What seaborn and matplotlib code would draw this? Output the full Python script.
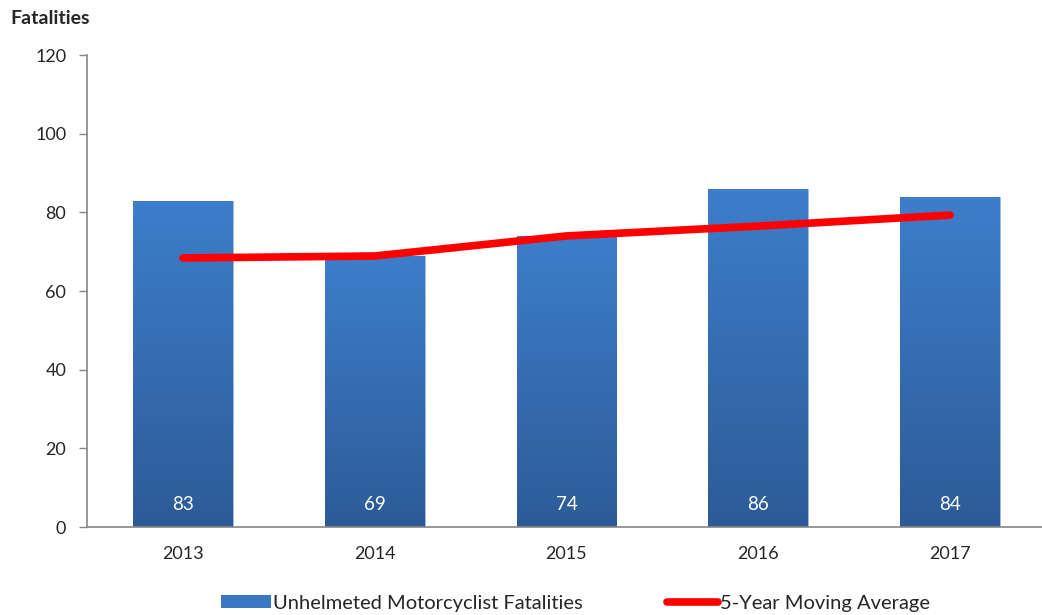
import numpy as np
import pandas as pd
import seaborn as sns
import matplotlib.pyplot as plt
from matplotlib.lines import Line2D
from matplotlib.patches import Patch
from matplotlib.colors import LinearSegmentedColormap

years = ["2013", "2014", "2015", "2016", "2017"]
fatalities = [83, 69, 74, 86, 84]
moving_avg = [68.4, 68.9, 74.0, 76.5, 79.3]

sns.set_style("white")
plt.rcParams['font.family'] = ['Lato', 'DejaVu Sans']

df = pd.DataFrame({'Year': years, 'Fatalities': fatalities, 'Avg': moving_avg})

fig = plt.figure(figsize=(10.42, 6.15), dpi=100)
ax = fig.add_axes([87 / 1042, 1 - 527 / 615, (1046 - 87) / 1042, (527 - 55) / 615])

sns.barplot(data=df, x='Year', y='Fatalities', color='#3a78c2', width=0.52,
            saturation=1, ax=ax, zorder=2)

# vertical gradient inside each bar, like the original
cmap = LinearSegmentedColormap.from_list('bar', ['#2d5b97', '#3d7ecb'])
grad = np.linspace(0, 1, 256).reshape(-1, 1)
for p in ax.patches:
    x0, y0 = p.get_x(), p.get_y()
    w, h = p.get_width(), p.get_height()
    im = ax.imshow(grad, cmap=cmap, origin='lower', aspect='auto',
                   extent=[x0, x0 + w, y0, y0 + h], zorder=2.5)
    im.set_clip_path(p)
    p.set_edgecolor('#9fbde0')
    p.set_linewidth(0.6)

sns.pointplot(data=df, x='Year', y='Avg', color='#ff0000', markers='',
              lw=5.5, solid_capstyle='round', ax=ax, zorder=4)

for i, v in enumerate(fatalities):
    ax.text(i, 5.6, str(v), color='white', ha='center', va='center', fontsize=13.5, zorder=5)

ax.set_xlim(-0.5, 4.5)
ax.set_ylim(0, 120)
ax.set_yticks(range(0, 121, 20))
ax.set_xlabel('')
ax.set_ylabel('')

ax.tick_params(axis='x', which='major', length=0, pad=14, labelsize=13)
ax.set_xticks(np.arange(-0.5, 4.6, 1), minor=True)
ax.tick_params(axis='x', which='minor', length=6, color='#868686', direction='out', width=1)
ax.tick_params(axis='y', length=6, color='#868686', direction='out', width=1, labelsize=13, pad=9)
ax.yaxis.set_tick_params(left=True)

for s in ['top', 'right']:
    ax.spines[s].set_visible(False)
for s in ['left', 'bottom']:
    ax.spines[s].set_color('#868686')
    ax.spines[s].set_linewidth(1.2)

fig.text(10 / 1042, 1 - 18 / 615, 'Fatalities', fontsize=14, fontweight='bold', va='center')

handles = [Patch(facecolor='#3a78c2', edgecolor='none'),
           Line2D([0], [0], color='#ff0000', lw=5.5, solid_capstyle='round')]
labels = ['Unhelmeted Motorcyclist Fatalities', '5-Year Moving Average']
fig.legend(handles, labels, loc='center', bbox_to_anchor=(0.552, 1 - 603 / 615), ncol=2,
           frameon=False, fontsize=14.5, columnspacing=4.2, handlelength=2.5,
           handletextpad=0.1, handleheight=0.6)

fig.savefig('out.png', dpi=100)
